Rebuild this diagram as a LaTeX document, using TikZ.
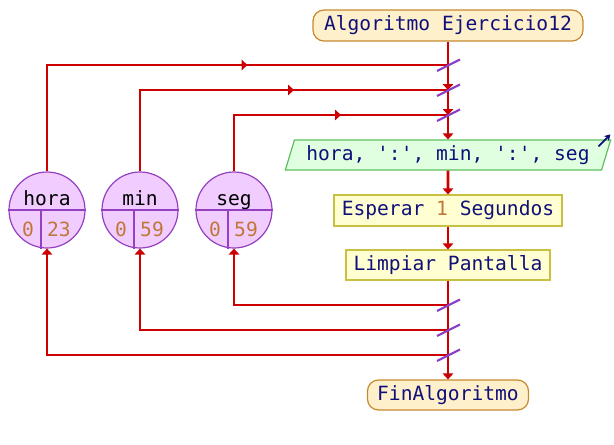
\documentclass[tikz,border=0pt]{standalone}
\usepackage{fontspec}
\setmonofont{DejaVu Sans Mono}
\usetikzlibrary{arrows.meta,shapes.geometric,decorations.markings}

\definecolor{flowred}{HTML}{CC0000}
\definecolor{slashpurple}{HTML}{8A3FC8}
\definecolor{termfill}{HTML}{FFF0CC}
\definecolor{termdraw}{HTML}{C8882E}
\definecolor{outfill}{HTML}{E0FFE0}
\definecolor{outdraw}{HTML}{5CC05C}
\definecolor{procfill}{HTML}{FFFFD2}
\definecolor{procdraw}{HTML}{C8C040}
\definecolor{varfill}{HTML}{F0CCFF}
\definecolor{vardraw}{HTML}{9440C0}
\definecolor{textblue}{HTML}{10107A}
\definecolor{numbrown}{HTML}{C07838}

\tikzset{
    txt/.style={font=\ttfamily\fontsize{19.6}{22}\selectfont},
    boxtxt/.style={txt,text=textblue,text height=14pt,text depth=4pt,inner xsep=0pt,inner ysep=0pt},
    terminal/.style={boxtxt,draw=termdraw,fill=termfill,line width=1.2pt,rounded corners=11pt},
    proceso/.style={boxtxt,draw=procdraw,fill=procfill,line width=1.2pt},
    salida/.style={boxtxt,trapezium,trapezium left angle=65,trapezium right angle=115,
        trapezium stretches=true,draw=outdraw,fill=outfill,line width=1.2pt},
    var/.style={circle,draw=vardraw,fill=varfill,line width=1.2pt,minimum size=76pt,inner sep=0pt},
    varline/.style={draw=vardraw,line width=1.2pt},
    varname/.style={txt,anchor=base,inner sep=0pt},
    varnum/.style={txt,anchor=base,inner sep=0pt,text=numbrown},
    flow/.style={draw=flowred,line width=2.8pt},
    tip/.style={-{Triangle[length=6pt,width=10.5pt]}},
    midarrow/.style={decoration={markings,
        mark=at position 0.5 with {\arrow{Triangle[length=6pt,width=10.5pt]}}},postaction=decorate},
    slash/.style={draw=slashpurple,line width=2.2pt}
}

\begin{document}
\begin{tikzpicture}[x=1pt,y=-1pt]
    \useasboundingbox (0,0) rectangle (614,445);

    % pasos del algoritmo
    \node[terminal,minimum width=270pt,minimum height=31pt] (inicio) at (448,25.5) {Algoritmo Ejercicio12};
    \node[salida,minimum width=326pt,minimum height=30pt] (escribir) at (448,155) {hora, ':', min, ':', seg};
    \node[proceso,minimum width=228pt,minimum height=31pt] (espera) at (448,210.5) {Esperar {\color{numbrown}1} Segundos};
    \node[proceso,minimum width=204pt,minimum height=30pt] (limpiar) at (448,265) {Limpiar Pantalla};
    \node[terminal,minimum width=161pt,minimum height=30pt] (fin) at (448,395) {FinAlgoritmo};

    % puntos de union
    \coordinate (j1) at (448,65);
    \coordinate (j2) at (448,90);
    \coordinate (j3) at (448,115);
    \coordinate (k1) at (448,305);
    \coordinate (k2) at (448,330);
    \coordinate (k3) at (448,355);

    % variables
    \foreach \v/\x/\hi in {hora/47/23,min/140/59,seg/234/59} {
        \node[var] (\v) at (\x,210) {};
        \draw[varline] (\v.west) -- (\v.east);
        \draw[varline] ([xshift=-6pt]\v.center) -- ([xshift=-6pt]\v.south);
        \node[varname] (\v-nombre) at (\x,205) {\v};
        \node[varnum] (\v-min) at (\x-19,236) {0};
        \node[varnum] (\v-max) at (\x+12,236) {\hi};
    }

    % flujo principal
    \draw[flow] (inicio) -- (j1);
    \draw[flow,tip] (j1) -- (j2);
    \draw[flow,tip] (j2) -- (j3);
    \draw[flow,tip] (j3) -- (j3 |- escribir.north);
    \draw[flow,tip] (escribir) -- (espera);
    \draw[flow,tip] (espera) -- (limpiar);
    \draw[flow] (limpiar) -- (k1) -- (k2) -- (k3);
    \draw[flow,tip] (k3) -- (fin);

    % ciclos de cada variable
    \foreach \v/\ja/\jb in {hora/j1/k3,min/j2/k2,seg/j3/k1} {
        \draw[flow] (\v.north) |- (\ja);
        \draw[flow,midarrow] (\v.north |- \ja) -- (\ja);
        \draw[flow,tip] (\jb) -| (\v.south);
    }

    \draw[-{Stealth[length=6pt,width=7pt]},draw=textblue,line width=1.6pt]
        ([shift={(-13,7)}]escribir.top right corner) -- ([shift={(-1,-5)}]escribir.top right corner);

    \foreach \j in {j1,j2,j3,k1,k2,k3}
        \draw[slash] ([shift={(-11,6)}]\j) -- ([shift={(12,-5.5)}]\j);
\end{tikzpicture}
\end{document}
